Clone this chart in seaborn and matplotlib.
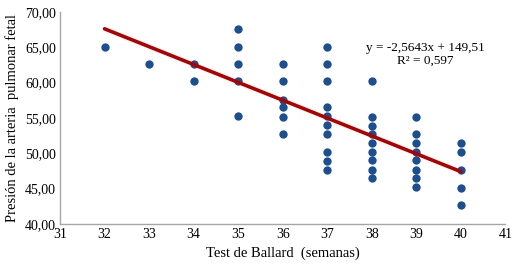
import numpy as np
import pandas as pd
import seaborn as sns
import matplotlib.pyplot as plt

# Datos
semanas = [32,
           33,
           34, 34,
           35, 35, 35, 35, 35,
           36, 36, 36, 36, 36, 36,
           37, 37, 37, 37, 37, 37, 37, 37, 37, 37,
           38, 38, 38, 38, 38, 38, 38, 38, 38,
           39, 39, 39, 39, 39, 39, 39, 39,
           40, 40, 40, 40, 40]
presion = [65.0,
           62.7,
           62.7, 60.2,
           67.6, 65.0, 62.7, 60.2, 55.3,
           62.7, 60.2, 57.6, 56.5, 55.2, 52.7,
           65.1, 62.7, 60.2, 56.5, 55.3, 54.0, 52.7, 50.2, 48.9, 47.7,
           60.2, 55.2, 53.9, 52.7, 51.5, 50.2, 49.0, 47.7, 46.5,
           55.2, 52.7, 51.4, 50.2, 49.0, 47.7, 46.5, 45.2,
           51.4, 50.2, 47.7, 45.1, 42.7]

df = pd.DataFrame({'semanas': semanas, 'presion': presion})

sns.set_style('white')
plt.rcParams['font.family'] = ['Liberation Serif', 'DejaVu Serif']
plt.rcParams['text.color'] = 'black'
plt.rcParams['axes.labelcolor'] = 'black'
plt.rcParams['xtick.color'] = 'black'
plt.rcParams['ytick.color'] = 'black'

fig, ax = plt.subplots(figsize=(5.13, 2.65), dpi=100)
fig.subplots_adjust(left=0.117, right=0.985, top=0.955, bottom=0.155)

sns.regplot(data=df, x='semanas', y='presion', ax=ax, ci=None, truncate=True,
            scatter_kws={'s': 36, 'color': '#1c4f8f', 'alpha': 1, 'linewidths': 0, 'zorder': 2},
            line_kws={'color': '#b00000', 'lw': 2.6, 'zorder': 3})

ax.set_xlim(31, 41)
ax.set_ylim(40, 70)
ax.set_xticks(range(31, 42))
ax.set_yticks(np.arange(40, 71, 5))
ax.set_yticklabels([f'{v:.2f}'.replace('.', ',') for v in np.arange(40, 71, 5)])
ax.tick_params(axis='both', labelsize=10, length=0, pad=3)

for s in ['top', 'right']:
    ax.spines[s].set_visible(False)
for s in ['left', 'bottom']:
    ax.spines[s].set_color('#a6a6a6')
    ax.spines[s].set_linewidth(1)

ax.set_xlabel('Test de Ballard  (semanas)', fontsize=10.5, labelpad=4)
ax.set_ylabel('Presión de la arteria  pulmonar fetal', fontsize=10.5, labelpad=4)

ax.text(39.2, 64.0, 'y = -2,5643x + 149,51\nR² = 0,597', ha='center', va='center',
        fontsize=9.5, linespacing=1.0)

plt.savefig('out.png', dpi=100)
